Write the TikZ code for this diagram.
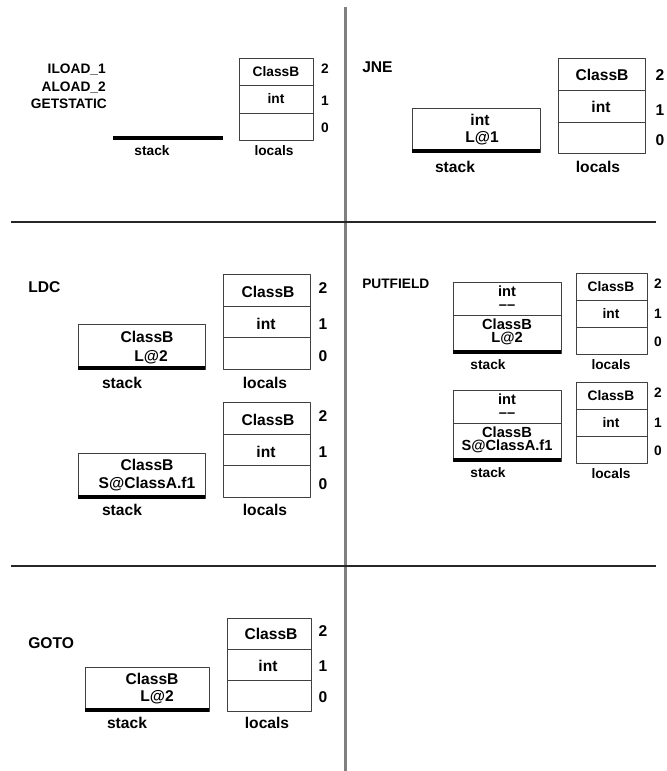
\documentclass[tikz,border=0pt]{standalone}
\usepackage{fontspec}
\setmainfont{Liberation Sans}
\begin{document}
\begin{tikzpicture}[x=0.75pt,y=-0.75pt,line join=round,
	big/.style={font=\bfseries\fontsize{11.7}{13}\selectfont,inner sep=0pt},
	small/.style={font=\bfseries\fontsize{10.3}{12}\selectfont,inner sep=0pt},
	cell/.style={draw=black!75,line width=0.7pt},
	stackbase/.style={line width=3.2pt}]
	\useasboundingbox (0,0) rectangle (667,771);
	% frame lines
	\draw[gray,line width=2pt] (345.5,7) -- (345.5,771);
	\draw[black!85,line width=1pt] (11,222) -- (656,222);
	\draw[black!85,line width=1pt] (11,566) -- (656,566);
	% ILOAD_1 / ALOAD_2 / GETSTATIC
	\begin{scope}[every node/.style={small}]
		\node[anchor=east] (i1) at (106,70) {ILOAD\_1};
		\node[anchor=east] (a2) at (106,88) {ALOAD\_2};
		\node[anchor=east] (gs) at (107,104) {GETSTATIC};
		\draw[stackbase] (113,138) -- (223,138);
		\draw[cell] (239,58) rectangle (313,140);
		\draw[cell] (239,85) -- (313,85) (239,113) -- (313,113);
		\node (l1a) at (276,71.5) {ClassB};
		\node (l1b) at (276,99) {int};
		\node (n1a) at (325,69) {2};
		\node (n1b) at (325,101) {1};
		\node (n1c) at (325,128) {0};
		\node (s1) at (152,151) {stack};
		\node (v1) at (274,151) {locals};
	\end{scope}
	% JNE
	\begin{scope}[every node/.style={big}]
		\node[anchor=west] (jne) at (362,67) {JNE};
		\draw[cell] (412,108) rectangle (540,152);
		\draw[stackbase] (412,151) -- (540,151);
		\node (j1) at (480,120) {int};
		\node (j2) at (482,138) {L@1};
		\draw[cell] (558,58) rectangle (645,153);
		\draw[cell] (558,90) -- (645,90) (558,122) -- (645,122);
		\node (l2a) at (602,75) {ClassB};
		\node (l2b) at (601,107) {int};
		\node (n2a) at (660,75) {2};
		\node (n2b) at (660,110) {1};
		\node (n2c) at (660,140) {0};
		\node (s2) at (455,167) {stack};
		\node (v2) at (598,167) {locals};
	\end{scope}
	% LDC
	\begin{scope}[every node/.style={big}]
		\node[anchor=west] (ldc) at (28,287) {LDC};
		\foreach \t/\b/\n in {274/369/a,402/497/b}{
			\draw[cell] (223,\t) rectangle (310,\b);
			\draw[cell] (223,{\t+32}) -- (310,{\t+32}) (223,{\t+63.5}) -- (310,{\t+63.5});
			\node (l3\n a) at (268,{\t+18}) {ClassB};
			\node (l3\n b) at (266,{\t+50}) {int};
			\node (n3\n a) at (323,{\t+14}) {2};
			\node (n3\n b) at (323,{\t+50}) {1};
			\node (n3\n c) at (323,{\t+82}) {0};
		}
		\draw[cell] (78,324) rectangle (205,369);
		\draw[stackbase] (78,368) -- (205,368);
		\node (c1) at (147,337) {ClassB};
		\node (c2) at (151,357) {L@2};
		\node (s3a) at (122,383) {stack};
		\node (v3a) at (265,383) {locals};
		\draw[cell] (78,453) rectangle (205,498);
		\draw[stackbase] (78,497) -- (205,497);
		\node (c3) at (147,465) {ClassB};
		\node (c4) at (147,484) {S@ClassA.f1};
		\node (s3b) at (122,510) {stack};
		\node (v3b) at (265,510) {locals};
	\end{scope}
	% PUTFIELD
	\begin{scope}[every node/.style={small}]
		\node[anchor=west] (pf) at (362,284) {PUTFIELD};
		\foreach \t/\b/\n/\r in {282/353/a/L@2,390/461/b/S@ClassA.f1}{
			\draw[cell] (453,\t) rectangle (561,\b);
			\draw[cell] (453,{\t+33.5}) -- (561,{\t+33.5});
			\draw[stackbase] (453,{\b-1}) -- (561,{\b-1});
			\begin{scope}[every node/.append style={font=\bfseries\fontsize{11}{12}\selectfont}]
				\node (p\n 1) at (507,{\t+9.5}) {int};
				\node (p\n 2) at (507,{\t+25.5}) {\textendash\textendash};
				\node (p\n 3) at (507,{\t+42}) {ClassB};
				\node (p\n 4) at (507,{\t+56}) {\r};
			\end{scope}
			\node (s4\n) at (488,{\b+12}) {stack};
		}
		\foreach \t/\n in {273/a,382/b}{
			\draw[cell] (576,\t) rectangle (647,{\t+81});
			\draw[cell] (576,{\t+27}) -- (647,{\t+27}) (576,{\t+54}) -- (647,{\t+54});
			\node (l4\n a) at (611,{\t+13.5}) {ClassB};
			\node (l4\n b) at (611,{\t+41}) {int};
			\node (n4\n a) at (658,{\t+11}) {2};
			\node (n4\n b) at (658,{\t+41}) {1};
			\node (n4\n c) at (658,{\t+69}) {0};
			\node (v4\n) at (611,{\t+92}) {locals};
		}
	\end{scope}
	% GOTO
	\begin{scope}[every node/.style={big}]
		\node[anchor=west] (gt) at (28,643) {GOTO};
		\draw[cell] (227,618) rectangle (311,711);
		\draw[cell] (227,649) -- (311,649) (227,680) -- (311,680);
		\node (l5a) at (271,634) {ClassB};
		\node (l5b) at (268,666) {int};
		\node (n5a) at (323,631) {2};
		\node (n5b) at (323,666) {1};
		\node (n5c) at (323,697) {0};
		\draw[cell] (85,667) rectangle (209,711);
		\draw[stackbase] (85,710) -- (209,710);
		\node (g1) at (152,679) {ClassB};
		\node (g2) at (157,697) {L@2};
		\node (s5) at (127,723) {stack};
		\node (v5) at (267,723) {locals};
	\end{scope}
\end{tikzpicture}
\end{document}
